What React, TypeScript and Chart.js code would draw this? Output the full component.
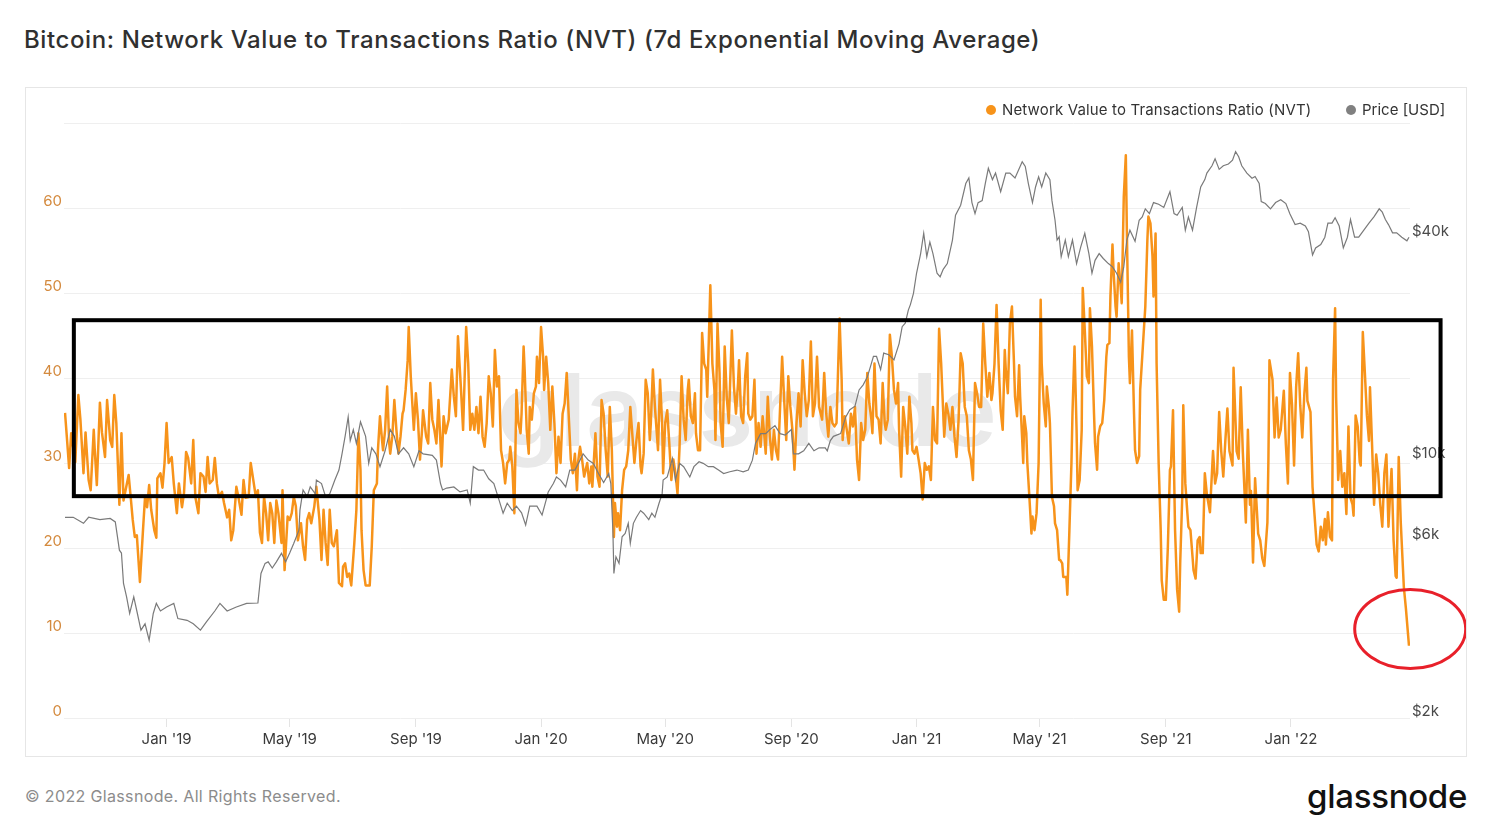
import React, { useEffect, useRef } from "react";
import { Chart, registerables } from "chart.js";

Chart.register(...registerables);

// Days counted from 2018-09-23 (day 0). NVT ratio (7d EMA) readings.
const nvtSeries: [number, number][] = [
  [1,35.9],[3,32.7],[5,29.4],[7,33.5],[11,30.1],[14,38.0],[16,35.1],[19,28.8],[21,33.6],[24,28.0],
  [26,26.8],[29,33.9],[30,31.5],[32,27.4],[35,37.1],[37,33.6],[40,30.7],[42,37.4],[45,32.7],[47,31.9],
  [49,38.0],[51,34.7],[54,25.1],[56,33.5],[58,25.6],[60,26.8],[63,28.6],[65,26.0],[67,23.3],[69,21.3],
  [71,21.5],[74,16.0],[77,22.1],[79,26.0],[81,24.8],[83,27.4],[85,24.5],[88,22.1],[90,21.2],[91,28.2],
  [94,28.8],[96,27.1],[98,30.0],[100,34.7],[102,30.0],[105,30.7],[107,27.6],[110,24.1],[112,27.6],[115,24.8],
  [117,26.5],[119,31.3],[121,30.6],[124,27.6],[126,32.7],[128,26.0],[131,24.1],[133,28.8],[136,28.4],[138,26.6],
  [140,30.7],[142,27.6],[145,28.0],[147,30.6],[149,27.6],[151,26.0],[154,26.6],[156,25.3],[159,23.6],[161,24.5],
  [163,20.9],[165,22.1],[168,27.2],[170,26.0],[173,23.9],[175,28.0],[177,25.9],[180,26.0],[182,30.0],[185,27.6],
  [187,26.0],[189,26.8],[191,21.8],[193,20.6],[195,26.0],[197,24.1],[199,20.9],[201,25.3],[203,24.1],[205,20.6],
  [207,25.6],[209,24.1],[212,20.6],[213,26.8],[215,17.4],[218,23.7],[220,23.3],[222,24.1],[224,26.0],[226,24.9],
  [228,20.9],[231,22.9],[233,20.2],[235,18.6],[237,23.3],[239,24.1],[241,22.9],[244,24.9],[246,27.2],[249,23.3],
  [251,18.6],[253,24.5],[255,20.6],[257,18.0],[259,24.5],[261,20.6],[263,20.2],[266,22.1],[268,15.9],[271,15.5],
  [272,17.8],[274,18.2],[276,16.6],[278,17.0],[280,15.6],[283,20.6],[285,24.5],[287,33.5],[289,29.2],[290,22.1],
  [292,17.4],[294,15.6],[298,15.6],[300,20.2],[302,26.8],[305,27.6],[306,31.5],[308,35.5],[310,32.7],[311,31.5],
  [313,33.9],[315,39.0],[317,32.3],[318,31.1],[320,33.1],[322,37.4],[324,33.9],[326,31.1],[328,33.1],[330,35.8],
  [331,36.2],[333,38.6],[335,42.1],[336,46.0],[338,40.2],[341,33.9],[343,38.2],[345,35.1],[347,30.4],[349,33.9],
  [350,36.2],[353,33.1],[355,32.3],[357,39.4],[359,35.1],[361,33.9],[363,32.3],[365,37.4],[368,29.6],[370,35.5],
  [372,33.5],[375,35.1],[378,41.0],[380,37.8],[382,35.5],[384,44.9],[387,38.6],[389,33.9],[392,46.0],[394,41.7],
  [396,33.9],[398,35.8],[400,33.9],[402,36.6],[404,33.5],[406,37.8],[408,33.1],[410,31.9],[412,34.7],[414,40.2],
  [416,38.2],[418,34.3],[420,43.3],[422,39.0],[424,40.2],[426,31.5],[428,30.0],[430,27.6],[432,30.0],[434,30.4],
  [435,31.9],[437,29.6],[439,24.1],[441,38.6],[443,34.7],[445,33.5],[446,35.8],[448,43.7],[449,41.0],[451,33.9],
  [453,31.1],[454,36.6],[456,35.1],[458,38.2],[460,39.0],[461,42.5],[463,39.4],[465,46.0],[467,42.5],[468,38.6],
  [470,42.5],[472,39.4],[474,33.9],[476,39.0],[478,34.7],[480,28.8],[482,33.1],[484,30.0],[486,35.8],[488,37.0],
  [490,40.6],[492,35.5],[494,30.4],[496,28.8],[498,31.1],[500,26.8],[501,30.0],[503,31.9],[505,30.4],[507,28.4],
  [510,30.0],[512,27.6],[514,29.6],[515,27.2],[518,33.5],[520,28.4],[522,27.2],[524,37.4],[526,35.8],[528,31.5],
  [530,28.4],[532,36.6],[534,31.5],[536,21.3],[537,25.3],[539,22.5],[540,24.1],[542,22.1],[544,26.8],[546,29.2],
  [548,29.6],[550,31.5],[552,36.6],[556,30.0],[558,32.7],[560,34.7],[562,29.6],[563,28.8],[565,31.1],[567,39.8],
  [569,38.2],[571,32.7],[572,34.7],[574,41.0],[576,36.6],[579,31.5],[581,39.8],[583,34.7],[584,28.8],[586,34.7],
  [588,36.2],[590,32.3],[592,28.0],[594,30.4],[596,28.8],[598,26.4],[600,31.9],[602,40.2],[604,35.1],[606,32.7],
  [608,38.6],[609,39.8],[611,35.5],[613,34.7],[615,38.2],[616,33.5],[618,31.5],[620,31.5],[622,45.3],[624,41.7],
  [626,41.0],[627,37.8],[630,50.9],[632,41.7],[634,38.6],[635,32.7],[637,46.4],[639,40.6],[640,34.7],[642,31.9],
  [644,43.7],[646,37.8],[648,34.7],[651,45.6],[653,39.0],[655,35.8],[657,39.4],[658,42.1],[660,35.5],[662,34.7],
  [664,40.2],[666,42.9],[667,35.8],[669,35.1],[671,35.5],[673,39.8],[675,31.1],[677,34.7],[679,31.9],[681,35.5],
  [683,32.7],[684,31.1],[686,37.8],[688,33.1],[690,30.4],[692,33.9],[694,31.5],[696,30.4],[697,33.5],[700,42.5],
  [702,37.4],[704,32.7],[706,40.2],[708,36.6],[710,33.9],[712,29.2],[714,34.7],[716,38.2],[718,34.3],[720,42.1],
  [722,38.2],[724,35.5],[726,37.4],[728,44.3],[730,35.5],[732,37.0],[734,42.5],[736,36.6],[739,35.1],[741,40.6],
  [743,35.8],[745,33.1],[747,36.6],[749,34.7],[751,34.3],[753,34.7],[756,47.0],[758,39.8],[759,32.7],[761,35.5],
  [763,33.9],[765,32.3],[767,35.8],[769,34.3],[771,36.6],[773,30.4],[775,28.0],[777,34.7],[779,32.7],[781,33.9],
  [783,40.6],[785,37.0],[787,35.1],[788,33.5],[790,41.7],[792,35.5],[794,35.1],[796,32.3],[798,39.4],[800,34.7],
  [801,33.9],[803,35.1],[805,45.1],[807,42.5],[809,38.6],[811,37.0],[813,39.4],[814,33.9],[816,28.4],[818,36.6],
  [820,34.3],[822,31.1],[824,37.8],[826,34.7],[827,31.5],[829,31.1],[831,31.9],[833,30.4],[835,28.8],[837,25.7],
  [839,30.0],[841,29.2],[843,29.6],[845,28.0],[847,36.6],[849,32.7],[851,32.3],[853,45.8],[855,41.7],[858,33.1],
  [860,37.0],[862,35.8],[864,33.9],[866,36.6],[868,33.1],[870,30.7],[872,35.1],[874,42.9],[876,41.7],[878,36.6],
  [880,35.5],[882,31.5],[884,30.4],[886,28.0],[888,39.4],[890,38.2],[892,36.6],[894,36.6],[896,46.4],[898,41.7],
  [900,37.8],[902,40.6],[904,37.4],[905,38.2],[907,41.7],[909,48.6],[911,41.7],[913,36.2],[915,33.9],[917,43.3],
  [918,41.0],[920,38.2],[922,46.4],[924,48.4],[926,41.7],[927,37.8],[929,35.5],[931,41.5],[932,37.8],[934,32.7],
  [935,30.0],[936,35.5],[938,33.5],[939,30.0],[941,26.0],[943,21.7],[944,23.7],[946,22.1],[948,24.1],[950,30.0],
  [952,49.2],[953,41.7],[955,37.0],[957,34.3],[958,39.0],[960,36.6],[961,34.7],[963,26.0],[965,24.9],[966,22.9],
  [968,22.1],[970,18.6],[971,18.6],[973,18.2],[974,16.6],[977,16.6],[978,14.5],[980,22.1],[982,30.0],[983,35.8],
  [985,43.7],[987,33.9],[988,26.8],[990,28.0],[992,33.9],[993,50.6],[995,45.6],[997,40.2],[999,39.4],[1000,48.2],
  [1002,43.7],[1004,35.8],[1005,32.3],[1007,29.2],[1008,33.1],[1010,34.3],[1012,34.7],[1014,37.4],[1016,42.5],[1017,43.9],
  [1019,44.1],[1020,49.6],[1022,55.7],[1023,52.7],[1025,48.4],[1026,47.2],[1028,53.5],[1030,50.7],[1031,48.8],[1033,61.3],
  [1035,66.2],[1036,57.4],[1038,42.5],[1039,39.4],[1041,45.6],[1043,35.8],[1044,31.5],[1046,30.0],[1048,30.8],[1049,38.6],
  [1051,42.5],[1052,44.5],[1054,48.4],[1056,56.2],[1057,59.0],[1059,58.2],[1061,54.3],[1062,49.6],[1064,57.0],[1065,41.7],
  [1067,30.0],[1069,22.1],[1070,16.2],[1072,13.9],[1074,13.9],[1076,20.2],[1078,29.2],[1079,29.6],[1081,36.2],[1083,22.1],
  [1085,15.1],[1087,12.5],[1088,18.2],[1090,26.0],[1091,36.8],[1093,27.6],[1095,24.1],[1096,22.5],[1098,22.1],[1100,19.0],
  [1101,17.4],[1103,16.4],[1105,20.9],[1107,21.3],[1108,19.4],[1110,19.4],[1112,28.8],[1114,26.3],[1117,24.2],[1120,31.4],
  [1122,27.6],[1124,28.8],[1126,36.0],[1128,31.4],[1130,28.4],[1132,32.6],[1134,36.4],[1136,31.4],[1139,29.7],[1140,41.2],
  [1143,31.4],[1145,30.5],[1147,38.9],[1149,31.4],[1152,23.0],[1154,33.9],[1156,25.1],[1157,26.7],[1159,18.3],[1161,28.2],
  [1164,21.7],[1166,20.9],[1168,18.8],[1170,17.9],[1173,23.0],[1174,30.5],[1175,42.1],[1178,39.8],[1180,33.0],[1182,37.7],
  [1184,33.0],[1186,33.9],[1189,38.5],[1191,32.2],[1193,27.6],[1195,40.6],[1197,36.8],[1199,29.7],[1201,38.9],[1203,42.9],
  [1205,36.8],[1207,33.0],[1209,38.1],[1211,41.2],[1212,37.3],[1215,36.0],[1217,27.2],[1219,23.8],[1221,20.4],[1223,19.6],
  [1225,22.5],[1227,20.9],[1229,23.4],[1230,20.4],[1232,24.2],[1234,21.3],[1236,20.9],[1237,39.8],[1239,48.2],[1240,37.7],
  [1242,28.0],[1244,31.4],[1246,27.2],[1248,28.8],[1250,24.0],[1252,34.3],[1254,25.9],[1256,25.1],[1257,23.8],[1259,35.6],
  [1261,34.3],[1263,30.1],[1264,29.7],[1266,45.4],[1268,40.6],[1270,35.6],[1272,32.6],[1273,38.9],[1275,32.2],[1277,25.1],
  [1279,31.0],[1281,28.8],[1283,25.1],[1285,22.5],[1287,28.8],[1289,31.0],[1291,22.5],[1293,27.2],[1294,29.3],[1296,20.9],
  [1298,16.7],[1299,16.5],[1301,30.7],[1303,23.0],[1306,15.4],[1308,12.9],[1311,8.5],
];

// BTC price (USD) readings, same day index.
const priceSeries: [number, number][] = [
  [1,7000],[9,7000],[19,6740],[24,7000],[35,6900],[45,6950],[50,6800],[54,5700],[56,5600],[58,4630],
  [61,4260],[64,3840],[68,4260],[71,3900],[75,3460],[79,3600],[83,3250],[87,3840],[90,4090],[94,3900],
  [100,4000],[107,4090],[111,3720],[120,3680],[126,3600],[133,3460],[139,3650],[147,3900],[152,4090],[159,3900],
  [168,4000],[178,4090],[189,4100],[192,4930],[196,5250],[199,5300],[203,5100],[207,5300],[212,5590],[216,5300],
  [220,5600],[224,5950],[229,6460],[230,7320],[233,8300],[237,7960],[240,8460],[245,8100],[246,8830],[251,8640],
  [255,7960],[259,8100],[264,8830],[268,9400],[271,10400],[274,11600],[277,13100],[279,11300],[282,12100],[285,11100],
  [289,12700],[294,11600],[297,9800],[300,10800],[304,10400],[308,9600],[313,10600],[318,12100],[322,11600],[326,10400],
  [331,10800],[336,10400],[341,9600],[346,10600],[350,10400],[359,10300],[363,10000],[367,8640],[369,8300],[373,8400],
  [380,8460],[386,8200],[393,8300],[396,7640],[399,9600],[404,9400],[409,9400],[414,8900],[419,8640],[424,7800],
  [428,7180],[432,7640],[437,7300],[441,7500],[446,7200],[450,6670],[454,7500],[461,7500],[466,7100],[470,7800],
  [472,8200],[477,8640],[480,9000],[484,8830],[489,8460],[493,9400],[498,9400],[503,10000],[506,10400],[511,10000],
  [516,9800],[521,9200],[526,8700],[531,9200],[533,8640],[535,6460],[536,4930],[538,5470],[541,5250],[544,6200],
  [547,6330],[550,6740],[552,5950],[555,6740],[558,7000],[562,7300],[565,7180],[570,6900],[573,7180],[576,7000],
  [580,7640],[583,8100],[584,8830],[588,9000],[593,10100],[596,8830],[600,9800],[604,9600],[610,9000],[614,9600],
  [619,9900],[623,9800],[628,9600],[633,9600],[638,9400],[643,9200],[649,9300],[656,9400],[662,9300],[667,9400],
  [671,10000],[674,11100],[679,11800],[684,11800],[688,12100],[693,12400],[698,11800],[703,11700],[709,12100],[711,10400],
  [716,10400],[721,10600],[726,11100],[731,10600],[736,10800],[742,10800],[744,10600],[747,11300],[750,11600],[757,11800],
  [762,13100],[766,13700],[771,14000],[775,15500],[779,16000],[783,16800],[786,17900],[789,19100],[792,19100],[796,17600],
  [799,19500],[804,19300],[809,18700],[814,20700],[817,23000],[820,23500],[823,25500],[825,26400],[828,28300],[831,32100],
  [835,36300],[838,41200],[841,35600],[844,39000],[847,36300],[851,32100],[854,31400],[857,32900],[861,34100],[866,39500],
  [869,46100],[874,49100],[879,56200],[882,58200],[885,49900],[888,46600],[891,49900],[895,50500],[898,56200],[901,61800],
  [905,57600],[908,60000],[913,53400],[918,60000],[922,60000],[927,58200],[934,64400],[937,62500],[940,56200],[944,49900],
  [947,55000],[950,58600],[953,55000],[957,60000],[961,57600],[963,50500],[966,44700],[968,39500],[970,40300],[972,35600],
  [976,39500],[979,35600],[983,39500],[987,34100],[991,37800],[995,41200],[999,36300],[1002,32100],[1005,34800],[1009,36300],
  [1013,35200],[1018,34100],[1022,33400],[1026,32100],[1030,30400],[1033,33400],[1036,39500],[1039,42000],[1044,39200],[1048,44700],
  [1051,45600],[1054,48000],[1058,46600],[1062,49900],[1067,49400],[1072,48400],[1078,53400],[1082,46600],[1085,46100],[1090,48400],
  [1093,42000],[1096,45600],[1100,42000],[1104,48400],[1108,55000],[1112,57600],[1114,60000],[1119,62800],[1122,65600],[1126,61400],
  [1130,62800],[1135,63500],[1139,65000],[1142,68600],[1145,66400],[1148,62800],[1153,60000],[1158,58100],[1161,58700],[1165,56200],
  [1167,50200],[1171,49600],[1176,48000],[1181,49900],[1186,50800],[1191,49600],[1195,46500],[1200,43500],[1205,43900],[1210,43100],
  [1213,41600],[1217,36000],[1220,37600],[1225,38400],[1229,40200],[1232,43900],[1236,43900],[1239,45400],[1243,43100],[1247,37600],
  [1251,40200],[1254,44900],[1258,40200],[1262,40200],[1267,42000],[1272,43900],[1277,45700],[1282,48000],[1285,47000],[1288,44900],
  [1291,43500],[1295,41300],[1299,41300],[1304,40200],[1309,39300],[1311,40200],
];

const dayMax = 1312;
const monthTickDays = [100, 220, 343, 465, 586, 709, 831, 951, 1074, 1196];
const monthTickLabels = ["Jan '19", "May '19", "Sep '19", "Jan '20", "May '20", "Sep '20", "Jan '21", "May '21", "Sep '21", "Jan '22"];
const nvtTicks = [0, 10, 20, 30, 40, 50, 60, 70];
const nvtTickLabels = ["0", "10", "20", "30", "40", "50", "60", ""];
const priceTicks = [2000, 6000, 10000, 40000];
const priceTickLabels = ["$2k", "$6k", "$10k", "$40k"];
const priceMin = 2000;
const priceMax = 82000;

// Hand-drawn annotations (in data units)
const boxDays = [9.6, 1341.8];
const boxNvt = [26.1, 46.8];
const ellipseCenter = [1312.2, 10.47];
const ellipseRadius = [54.1, 4.65];

const ORANGE = "#f7931a";
const GREY = "#7a7a7a";

const watermarkPlugin = {
  id: "gnWatermark",
  beforeDatasetsDraw(chart: any) {
    const { ctx, chartArea } = chart;
    ctx.save();
    ctx.font = "600 100px Inter";
    ctx.fillStyle = "#e9e9e9";
    ctx.textAlign = "center";
    ctx.textBaseline = "alphabetic";
    ctx.fillText("glassnode", (chartArea.left + chartArea.right) / 2 + 10, (chartArea.top + chartArea.bottom) / 2 + 25);
    ctx.restore();
  },
};

const annotationPlugin = {
  id: "gnAnnotations",
  afterDraw(chart: any) {
    const { ctx, scales } = chart;
    const xs = scales.x;
    const ys = scales.y;
    const l = xs.getPixelForValue(boxDays[0]);
    const r = xs.getPixelForValue(boxDays[1]);
    const t = ys.getPixelForValue(boxNvt[1]);
    const b = ys.getPixelForValue(boxNvt[0]);
    ctx.save();
    ctx.strokeStyle = "#000000";
    ctx.lineWidth = 4;
    ctx.strokeRect(l, t, r - l, b - t);
    const cx = xs.getPixelForValue(ellipseCenter[0]);
    const cy = ys.getPixelForValue(ellipseCenter[1]);
    const rx = Math.abs(xs.getPixelForValue(ellipseCenter[0] + ellipseRadius[0]) - cx);
    const ry = Math.abs(ys.getPixelForValue(ellipseCenter[1] + ellipseRadius[1]) - cy);
    ctx.beginPath();
    ctx.ellipse(cx, cy, rx, ry, 0, 0, Math.PI * 2);
    ctx.strokeStyle = "#e8202a";
    ctx.lineWidth = 3;
    ctx.stroke();
    ctx.restore();
  },
};

export default function App() {
  const canvasRef = useRef<HTMLCanvasElement>(null);

  useEffect(() => {
    if (!canvasRef.current) return;
    const chart = new Chart(canvasRef.current, {
      type: "line",
      data: {
        datasets: [
          {
            label: "Network Value to Transactions Ratio (NVT)",
            data: nvtSeries.map(([d, v]) => ({ x: d, y: v })),
            borderColor: ORANGE,
            backgroundColor: ORANGE,
            borderWidth: 2.5,
            pointRadius: 0,
            tension: 0,
            yAxisID: "y",
            order: 2,
            borderJoinStyle: "round",
          },
          {
            label: "Price [USD]",
            data: priceSeries.map(([d, v]) => ({ x: d, y: v })),
            borderColor: GREY,
            backgroundColor: GREY,
            borderWidth: 1.2,
            pointRadius: 0,
            tension: 0,
            yAxisID: "y1",
            order: 1,
          },
        ],
      },
      options: {
        responsive: false,
        animation: false,
        devicePixelRatio: 1,
        layout: { padding: { top: 35, left: 0, right: 0, bottom: 0 } },
        plugins: {
          legend: { display: false },
          tooltip: { enabled: false },
          title: { display: false },
        },
        scales: {
          x: {
            type: "linear",
            min: 0,
            max: dayMax,
            afterBuildTicks: (s: any) => {
              s.ticks = monthTickDays.map((v) => ({ value: v }));
            },
            afterFit: (s: any) => {
              s.height = 38;
            },
            ticks: {
              autoSkip: false,
              maxRotation: 0,
              padding: 3,
              color: "#3a3a3a",
              font: { family: "Inter", size: 15 },
              callback: (v: any) => {
                const i = monthTickDays.indexOf(Number(v));
                return i >= 0 ? monthTickLabels[i] : "";
              },
            },
            grid: { drawOnChartArea: false, drawTicks: true, tickLength: 9, color: "#e4e4e4" },
            border: { display: false },
          },
          y: {
            type: "linear",
            position: "left",
            min: 0,
            max: 70,
            afterBuildTicks: (s: any) => {
              s.ticks = nvtTicks.map((v) => ({ value: v }));
            },
            afterFit: (s: any) => {
              s.width = 38;
            },
            ticks: {
              autoSkip: false,
              padding: 2,
              labelOffset: -7,
              color: "#d48a3e",
              font: { family: "Inter", size: 15 },
              callback: (v: any) => {
                const i = nvtTicks.indexOf(Number(v));
                return i >= 0 ? nvtTickLabels[i] : "";
              },
            },
            grid: { drawTicks: false, color: "#efefef", lineWidth: 1 },
            border: { display: false },
          },
          y1: {
            type: "logarithmic",
            position: "right",
            min: priceMin,
            max: priceMax,
            afterBuildTicks: (s: any) => {
              s.ticks = priceTicks.map((v) => ({ value: v }));
            },
            afterFit: (s: any) => {
              s.width = 56;
            },
            ticks: {
              autoSkip: false,
              padding: 2,
              labelOffset: -7,
              color: "#4a4a4a",
              font: { family: "Inter", size: 15 },
              callback: (v: any) => {
                const i = priceTicks.indexOf(Number(v));
                return i >= 0 ? priceTickLabels[i] : "";
              },
            },
            grid: { display: false, drawTicks: false },
            border: { display: false },
          },
        },
      },
      plugins: [watermarkPlugin, annotationPlugin],
    } as any);
    return () => chart.destroy();
  }, []);

  return (
    <div
      style={{
        position: "absolute",
        left: 0,
        top: 0,
        width: 1490,
        height: 830,
        background: "#ffffff",
        fontFamily: "Inter, 'Noto Sans', sans-serif",
        overflow: "hidden",
      }}
    >
      <div
        style={{
          position: "absolute",
          left: 24,
          top: 25,
          fontSize: 24,
          fontWeight: 500,
          lineHeight: "30px",
          letterSpacing: "0.6px",
          color: "#303030",
          whiteSpace: "nowrap",
        }}
      >
        Bitcoin: Network Value to Transactions Ratio (NVT) (7d Exponential Moving Average)
      </div>

      <div
        style={{
          position: "absolute",
          left: 25,
          top: 87,
          width: 1442,
          height: 670,
          border: "1px solid #e6e6e6",
          boxSizing: "border-box",
        }}
      >
        <canvas ref={canvasRef} width={1440} height={668} style={{ display: "block", width: 1440, height: 668 }} />
      </div>

      <div style={{ position: "absolute", left: 986, top: 105, width: 10, height: 10, borderRadius: 5, background: ORANGE }} />
      <div
        style={{ position: "absolute", left: 1002, top: 101, fontSize: 15, lineHeight: "18px", letterSpacing: "0.15px", color: "#333333", whiteSpace: "nowrap" }}
      >
        Network Value to Transactions Ratio (NVT)
      </div>
      <div style={{ position: "absolute", left: 1346, top: 105, width: 10, height: 10, borderRadius: 5, background: "#808080" }} />
      <div
        style={{ position: "absolute", left: 1362, top: 101, fontSize: 15, lineHeight: "18px", color: "#333333", whiteSpace: "nowrap" }}
      >
        Price [USD]
      </div>

      <div
        style={{ position: "absolute", left: 25, top: 786, fontSize: 16, lineHeight: "20px", letterSpacing: "0.35px", color: "#8c8c8c", whiteSpace: "nowrap" }}
      >
        © 2022 Glassnode. All Rights Reserved.
      </div>
      <div
        style={{
          position: "absolute",
          right: 23,
          top: 776,
          fontSize: 33,
          fontWeight: 500,
          lineHeight: "40px",
          color: "#111111",
          letterSpacing: "-0.3px",
          whiteSpace: "nowrap",
        }}
      >
        glassnode
      </div>
    </div>
  );
}
